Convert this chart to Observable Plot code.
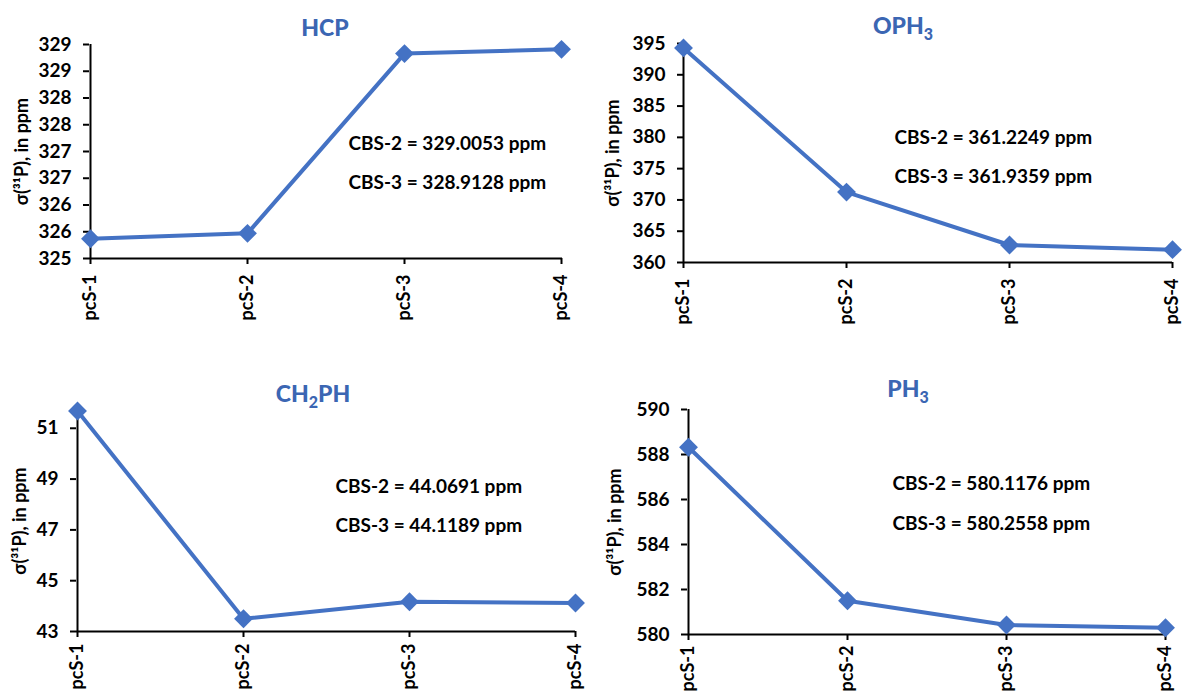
<!DOCTYPE html>
<html>
<head>
<meta charset="utf-8">
<script src="https://cdn.jsdelivr.net/npm/d3@7"></script>
<script src="https://cdn.jsdelivr.net/npm/@observablehq/plot@0.6"></script>
<style>
  html, body { margin: 0; padding: 0; background: #ffffff; }
  #root { position: relative; width: 1182px; height: 693px; overflow: hidden; background: #ffffff; font-family: Lato, "Open Sans", sans-serif; }
  .panel { position: absolute; }
  .title { position: absolute; transform: translateX(-50%); font-family: Lato, sans-serif; font-weight: 900; font-size: 23px; line-height: 23px; color: #3B66B3; white-space: nowrap; }
  .title sub { font-size: 16px; vertical-align: -6px; line-height: 0; }
</style>
</head>
<body>
<div id="root"></div>
<script>
// ---- data ----
const categories = ["pcS-1", "pcS-2", "pcS-3", "pcS-4"];

const hcpValues   = [325.37, 325.47, 328.83, 328.91];
const oph3Values  = [394.3, 371.25, 362.8, 362.05];
const ch2phValues = [51.68, 43.5, 44.17, 44.12];
const ph3Values   = [588.32, 581.5, 580.42, 580.3];

const hcpTicks = [325, 325.5, 326, 326.5, 327, 327.5, 328, 328.5, 329];
const hcpTickLabels = ["325", "326", "326", "327", "327", "328", "328", "329", "329"];
const oph3Ticks = [360, 365, 370, 375, 380, 385, 390, 395];
const oph3TickLabels = ["360", "365", "370", "375", "380", "385", "390", "395"];
const ch2phTicks = [43, 45, 47, 49, 51];
const ch2phTickLabels = ["43", "45", "47", "49", "51"];
const ph3Ticks = [580, 582, 584, 586, 588, 590];
const ph3TickLabels = ["580", "582", "584", "586", "588", "590"];

const hcpDomain = [325, 329];
const oph3Domain = [360, 395];
const ch2phDomain = [43, 51.7];
const ph3Domain = [580, 590];

const hcpNotes = ["CBS-2 = 329.0053 ppm", "CBS-3 = 328.9128 ppm"];
const oph3Notes = ["CBS-2 = 361.2249 ppm", "CBS-3 = 361.9359 ppm"];
const ch2phNotes = ["CBS-2 = 44.0691 ppm", "CBS-3 = 44.1189 ppm"];
const ph3Notes = ["CBS-2 = 580.1176 ppm", "CBS-3 = 580.2558 ppm"];

const yLabel = "σ(³¹P), in ppm";
const titles = [["HCP", ""], ["OPH", "3"], ["CH", "2", "PH"], ["PH", "3"]];

// ---- layout ----
const lineColor = "#4472C4";
const panels = [
  {values: hcpValues, ticks: hcpTicks, labels: hcpTickLabels, domain: hcpDomain, notes: hcpNotes, title: titles[0],
   left: 0, top: 0, width: 591, height: 346, mL: 89, mR: 29, mT: 44, mB: 88, xPad: 10, labelX: 22, noteDx: 259, noteDy: [99, 138], titleX: 325, titleBase: 36},
  {values: oph3Values, ticks: oph3Ticks, labels: oph3TickLabels, domain: oph3Domain, notes: oph3Notes, title: titles[1],
   left: 591, top: 0, width: 591, height: 346, mL: 92, mR: 10, mT: 43, mB: 84, xPad: 10, labelX: 22, noteDx: 211, noteDy: [94, 133], titleX: 903, titleBase: 34},
  {values: ch2phValues, ticks: ch2phTicks, labels: ch2phTickLabels, domain: ch2phDomain, notes: ch2phNotes, title: titles[2],
   left: 0, top: 346, width: 591, height: 347, mL: 76, mR: 16, mT: 64, mB: 62, xPad: 6, labelX: 20, noteDx: 259, noteDy: [76, 115], titleX: 313, titleBase: 402},
  {values: ph3Values, ticks: ph3Ticks, labels: ph3TickLabels, domain: ph3Domain, notes: ph3Notes, title: titles[3],
   left: 591, top: 346, width: 591, height: 347, mL: 96, mR: 16, mT: 63, mB: 59, xPad: 5, labelX: 24, noteDx: 205, noteDy: [74, 114], titleX: 908, titleBase: 397}
];

const root = document.getElementById("root");

for (const p of panels) {
  const data = categories.map((c, i) => ({cat: c, value: p.values[i]}));
  const labelMap = new Map(p.ticks.map((t, i) => [t, p.labels[i]]));
  const noteMarks = p.notes.map((n, i) =>
    Plot.text([n], {text: d => d, frameAnchor: "top-left", dx: p.noteDx, dy: p.noteDy[i], textAnchor: "start", lineAnchor: "middle", fontSize: 19, fontWeight: "bold"})
  );
  const chart = Plot.plot({
    width: p.width,
    height: p.height,
    marginLeft: p.mL,
    marginRight: p.mR,
    marginTop: p.mT,
    marginBottom: p.mB,
    style: {fontFamily: "Lato, sans-serif", fontWeight: "bold", fontSize: "19px", color: "#000", background: "transparent", overflow: "visible"},
    x: {type: "point", domain: categories, padding: 0},
    y: {domain: p.domain},
    marks: [
      Plot.ruleY([p.domain[0]], {stroke: "#000", strokeWidth: 2}),
      Plot.ruleX([categories[0]], {stroke: "#000", strokeWidth: 2}),
      Plot.axisX({tickRotate: -90, tickSize: 6, tickPadding: p.xPad, strokeWidth: 2, fontSize: 18, label: null}),
      Plot.axisY({ticks: p.ticks, tickFormat: d => labelMap.get(d), tickSize: 6, tickPadding: 12, strokeWidth: 2, fontSize: 19,
                  label: null}),
      Plot.text([yLabel], {text: d => d, frameAnchor: "left", rotate: -90, dx: -(p.mL - p.labelX), fontSize: 18, fontWeight: "bold", textAnchor: "middle", lineAnchor: "middle"}),
      Plot.line(data, {x: "cat", y: "value", stroke: lineColor, strokeWidth: 4}),
      Plot.dot(data, {x: "cat", y: "value", symbol: "diamond2", r: 8.5, fill: lineColor, stroke: null}),
      ...noteMarks
    ]
  });
  const wrap = document.createElement("div");
  wrap.className = "panel";
  wrap.style.left = p.left + "px";
  wrap.style.top = p.top + "px";
  wrap.appendChild(chart);
  root.appendChild(wrap);

  const t = document.createElement("div");
  t.className = "title";
  t.style.left = p.titleX + "px";
  t.style.top = (p.titleBase - 20.4) + "px";
  let html = p.title[0];
  if (p.title[1]) html += "<sub>" + p.title[1] + "</sub>";
  if (p.title[2]) html += p.title[2];
  t.innerHTML = html;
  root.appendChild(t);
}
</script>
</body>
</html>
